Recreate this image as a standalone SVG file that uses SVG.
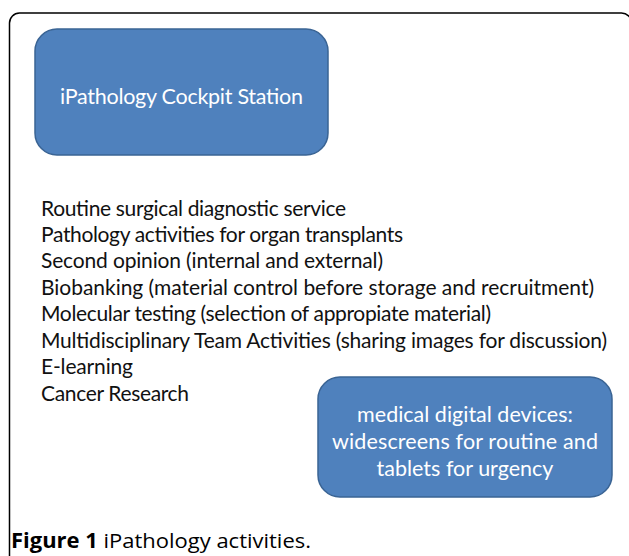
<svg xmlns="http://www.w3.org/2000/svg" width="629" height="556" viewBox="0 0 629 556">
<style>
.node rect{fill:#4F81BD;stroke:#3A6494;stroke-width:1.5}
.nt{font-family:"Lato","Liberation Sans",sans-serif;font-size:21.5px;fill:#ffffff;text-anchor:middle}
.lt{font-family:"Lato","Liberation Sans",sans-serif;font-size:21px;fill:#111111}
.cap{font-family:"Open Sans","Liberation Sans",sans-serif;font-size:20.5px;fill:#000000}
</style>
<rect x="0" y="0" width="629" height="556" fill="#ffffff"/>
<rect x="9.5" y="13" width="622" height="560" rx="10" fill="none" stroke="#000000" stroke-width="1.5"/>
<g id="cockpit" class="node">
<rect x="35" y="29" width="293" height="126" rx="22"/>
<text class="nt" x="181.5" y="104" textLength="243">iPathology Cockpit Station</text>
</g>
<g id="activities">
<text class="lt" x="41" y="216" textLength="305">Routine surgical diagnostic service</text>
<text class="lt" x="41" y="242" textLength="362">Pathology activities for organ transplants</text>
<text class="lt" x="41" y="268" textLength="342">Second opinion (internal and external)</text>
<text class="lt" x="41" y="294.5" textLength="553">Biobanking (material control before storage and recruitment)</text>
<text class="lt" x="41" y="321" textLength="450">Molecular testing (selection of appropiate material)</text>
<text class="lt" x="41" y="347.5" textLength="566">Multidisciplinary Team Activities (sharing images for discussion)</text>
<text class="lt" x="41" y="374" textLength="92">E-learning</text>
<text class="lt" x="41" y="401" textLength="148">Cancer Research</text>
</g>
<g id="devices" class="node">
<rect x="318" y="377" width="294" height="120" rx="22"/>
<text class="nt" x="465" y="422">medical digital devices:</text>
<text class="nt" x="465" y="449" textLength="266">widescreens for routine and</text>
<text class="nt" x="465" y="476">tablets for urgency</text>
</g>
<g id="connectors"/>
<text class="cap" x="11" y="548" textLength="300" lengthAdjust="spacingAndGlyphs"><tspan font-weight="bold">Figure 1</tspan> iPathology activities.</text>
</svg>
